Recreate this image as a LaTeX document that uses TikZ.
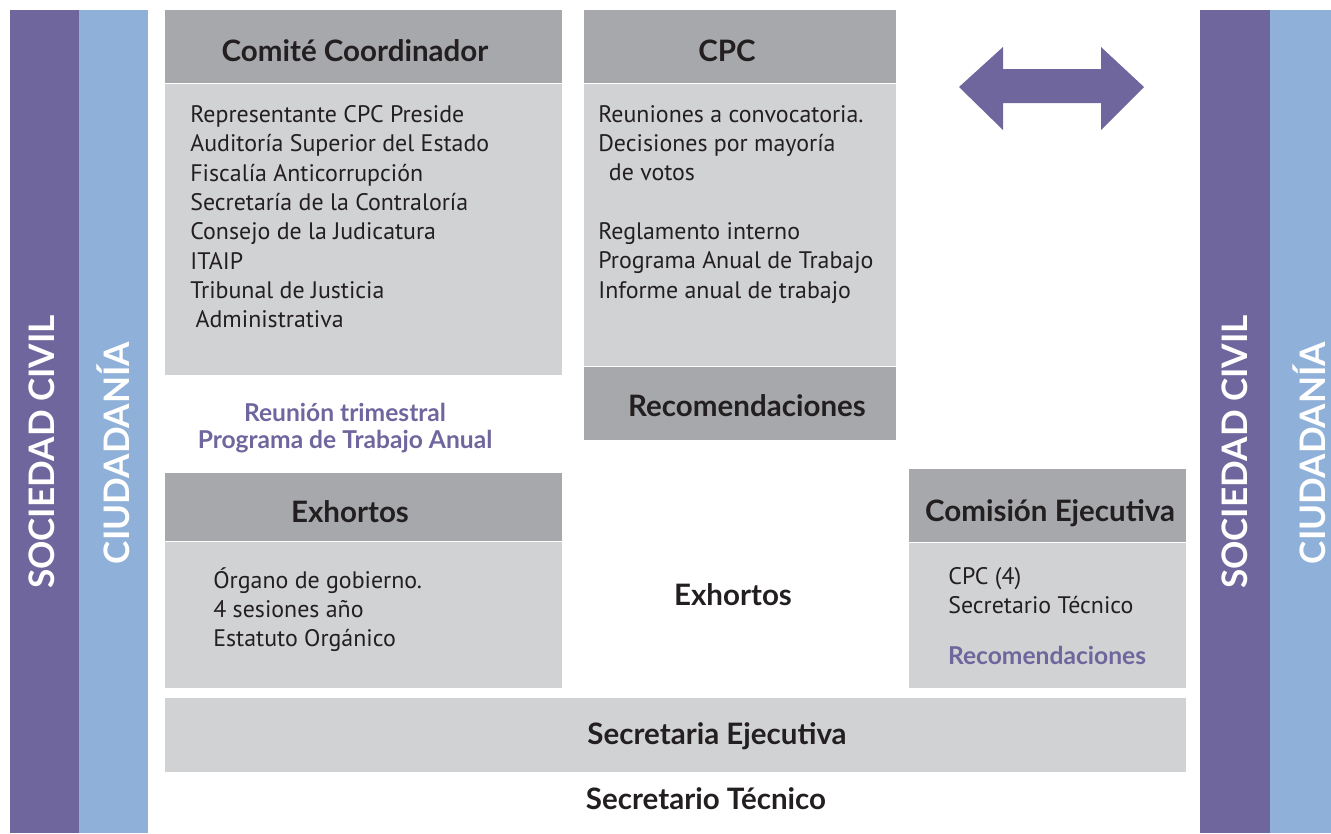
\documentclass[tikz,border=0pt]{standalone}
\usepackage{fontspec}
\setmainfont{PT Sans}
\newfontfamily\headfont{Lato}
\usetikzlibrary{calc}
\definecolor{civil}{HTML}{6F669D}
\definecolor{citizen}{HTML}{8FB0D8}
\definecolor{headgray}{HTML}{A7A8AB}
\definecolor{bodygray}{HTML}{D1D2D4}
\definecolor{ink}{HTML}{231F20}
\tikzset{
  head/.style={text=ink, inner sep=0pt, font=\headfont\bfseries\fontsize{16.8}{19}\selectfont},
  body/.style={text=ink, anchor=north west, align=left, inner sep=0pt, font=\fontsize{13.6}{16.7}\selectfont},
  note/.style={text=civil, align=center, inner sep=0pt, font=\headfont\bfseries\fontsize{14}{15.3}\selectfont},
  side/.style={text=white, rotate=90, inner sep=0pt, font=\headfont\bfseries\fontsize{20}{24}\selectfont}
}

\begin{document}
\begin{tikzpicture}[x=0.02cm, y=-0.02cm]
  \useasboundingbox (0,0) rectangle (1331,833);

  % side bars
  \fill[civil]   (10,10)   rectangle (79,833);
  \fill[citizen] (79,10)   rectangle (148,833);
  \fill[civil]   (1200,10) rectangle (1270,833);
  \fill[citizen] (1270,10) rectangle (1331,833);
  \node[side] (civilL) at (42,452)   {SOCIEDAD CIVIL};
  \node[side] (citL)   at (113,453)  {CIUDADANÍA};
  \node[side] (civilR) at (1235,452) {SOCIEDAD CIVIL};
  \node[side] (citR)   at (1309,453) {CIUDADANÍA};

  % boxes
  \fill[headgray] (165,10)  rectangle (562,83);
  \fill[bodygray] (165,84)  rectangle (562,375);
  \fill[headgray] (584,10)  rectangle (896,83);
  \fill[bodygray] (584,84)  rectangle (896,366);
  \fill[headgray] (584,367) rectangle (896,440);
  \fill[headgray] (165,473) rectangle (562,541);
  \fill[bodygray] (165,542) rectangle (562,688);
  \fill[headgray] (909,469) rectangle (1186,542);
  \fill[bodygray] (909,543) rectangle (1186,688);
  \fill[bodygray] (165,698) rectangle (1186,772);

  % double arrow
  \fill[civil] (959,87) -- (1003,47) -- (1003,69) -- (1101,69) -- (1101,47)
    -- (1144,87) -- (1101,130) -- (1101,103) -- (1003,103) -- (1003,130) -- cycle;

  % titles
  \node[head] (comite) at (355,51)  {Comité Coordinador};
  \node[head] (cpc)    at (727,51)  {CPC};
  \node[head] (recom)  at (747,406) {Recomendaciones};
  \node[head] (exh)    at (350,512) {Exhortos};
  \node[head] (comis)  at (1050,513) {Comisión Ejecutiva};
  \node[head] (exhmid) at (733,595) {Exhortos};
  \node[head] (secej)  at (717,736) {Secretaria Ejecutiva};
  \node[head] (sectec) at (706,799) {Secretario Técnico};

  % box texts
  \node[body] (comitelist) at (190,105) {Representante CPC Preside\\
    Auditoría Superior del Estado\\ Fiscalía Anticorrupción\\
    Secretaría de la Contraloría\\ Consejo de la Judicatura\\ ITAIP\\
    Tribunal de Justicia\\ \hspace{3pt}Administrativa};
  \node[body] (cpclist) at (598,105) {Reuniones a convocatoria.\\
    Decisiones por mayoría\\ \hspace{6pt}de votos\\[16.7pt]
    Reglamento interno\\ Programa Anual de Trabajo\\ Informe anual de trabajo};
  \node[body] (exhlist) at (213,567) {Órgano de gobierno.\\ 4 sesiones año\\ Estatuto Orgánico};
  \node[body] (comislist) at (948,567) {CPC (4)\\ Secretario Técnico};

  % purple notes
  \node[note] (reunion) at (345,428) {Reunión trimestral\\ Programa de Trabajo Anual};
  \node[note] (comisrec) at (1047,655) {Recomendaciones};
\end{tikzpicture}
\end{document}
